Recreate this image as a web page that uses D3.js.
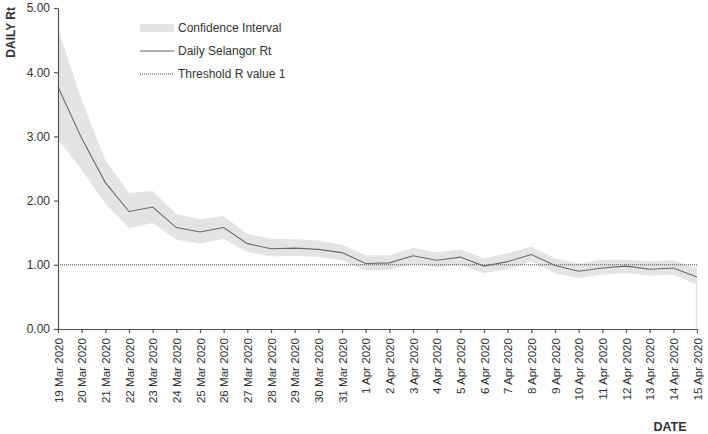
<!DOCTYPE html>
<html>
<head>
	<meta charset="utf-8">
	<title>Daily Selangor Rt</title>
	<script src="https://d3js.org/d3.v7.min.js"></script>
	<style>
		html, body {
			margin: 0;
			background: white;
		}
		text {
			font-family: "Liberation Sans", Arial, sans-serif;
			fill: #333;
		}
	</style>
</head>
<body>
	<svg id="svg"></svg>
	<script>
		const dates = ["19 Mar 2020", "20 Mar 2020", "21 Mar 2020", "22 Mar 2020", "23 Mar 2020", "24 Mar 2020",
			"25 Mar 2020", "26 Mar 2020", "27 Mar 2020", "28 Mar 2020", "29 Mar 2020", "30 Mar 2020", "31 Mar 2020",
			"1 Apr 2020", "2 Apr 2020", "3 Apr 2020", "4 Apr 2020", "5 Apr 2020", "6 Apr 2020", "7 Apr 2020",
			"8 Apr 2020", "9 Apr 2020", "10 Apr 2020", "11 Apr 2020", "12 Apr 2020", "13 Apr 2020", "14 Apr 2020",
			"15 Apr 2020"];
		const rt = [3.77, 2.97, 2.28, 1.83, 1.90, 1.58, 1.51, 1.58, 1.33, 1.25, 1.26, 1.24, 1.19,
			1.02, 1.03, 1.14, 1.07, 1.12, 0.98, 1.05, 1.16, 0.99, 0.90, 0.95, 0.98, 0.93, 0.95, 0.81];
		const ciUpper = [4.68, 3.57, 2.63, 2.12, 2.15, 1.79, 1.71, 1.76, 1.48, 1.40, 1.40, 1.38, 1.31,
			1.15, 1.15, 1.26, 1.19, 1.24, 1.10, 1.18, 1.28, 1.10, 1.02, 1.08, 1.08, 1.05, 1.07, 0.95];
		const ciLower = [2.95, 2.48, 1.95, 1.57, 1.65, 1.39, 1.33, 1.40, 1.20, 1.13, 1.14, 1.12, 1.07,
			0.91, 0.92, 1.02, 0.96, 1.00, 0.87, 0.93, 1.05, 0.87, 0.79, 0.85, 0.87, 0.83, 0.85, 0.69];
		const threshold = 1;
		const yTicks = [0, 1, 2, 3, 4, 5];
		const legendLabels = ["Confidence Interval", "Daily Selangor Rt", "Threshold R value 1"];

		const width = 708, height = 434;
		const margins = { top: 8, left: 58, right: 11, bottom: 105 };

		const svg = d3.select("#svg")
			.attr("width", width)
			.attr("height", height);

		const scaleX = d3.scalePoint()
			.domain(dates)
			.range([margins.left, width - margins.right]);

		const scaleY = d3.scaleLinear()
			.domain([0, 5])
			.range([height - margins.bottom, margins.top]);

		const data = dates.map((d, i) => ({ date: d, rt: rt[i], hi: ciUpper[i], lo: ciLower[i] }));

		// confidence band
		const area = d3.area()
			.x(d => scaleX(d.date))
			.y0(d => scaleY(d.lo))
			.y1(d => scaleY(d.hi));

		svg.append("path")
			.datum(data)
			.attr("fill", "#e4e4e4")
			.attr("d", area);

		// faint edge at the end of the band
		const last = data[data.length - 1];
		svg.append("line")
			.attr("x1", scaleX(last.date) - 0.5)
			.attr("x2", scaleX(last.date) - 0.5)
			.attr("y1", scaleY(last.lo))
			.attr("y2", scaleY(0))
			.attr("stroke", "#e4e4e4")
			.attr("stroke-width", 1.5);

		// threshold
		const thresholdLine = d3.line()
			.x(d => scaleX(d.date))
			.y(() => scaleY(threshold));

		svg.append("path")
			.datum(data)
			.attr("fill", "none")
			.attr("stroke", "#444")
			.attr("stroke-width", 1)
			.attr("stroke-dasharray", "1,1")
			.attr("d", thresholdLine);

		// Rt line
		const line = d3.line()
			.x(d => scaleX(d.date))
			.y(d => scaleY(d.rt));

		svg.append("path")
			.datum(data)
			.attr("fill", "none")
			.attr("stroke", "#6a6a6a")
			.attr("stroke-width", 1.1)
			.attr("d", line);

		// axes
		const yAxis = svg.append("g")
			.attr("transform", `translate(${margins.left}, 0)`)
			.call(d3.axisLeft(scaleY)
				.tickValues(yTicks)
				.tickFormat(d3.format(".2f"))
				.tickSize(4)
				.tickSizeOuter(0)
				.tickPadding(4));

		yAxis.selectAll("text")
			.style("font-size", "12px");

		const xAxis = svg.append("g")
			.attr("transform", `translate(0, ${height - margins.bottom})`)
			.call(d3.axisBottom(scaleX)
				.tickSize(4)
				.tickSizeOuter(0));

		xAxis.selectAll("text")
			.attr("transform", "rotate(-90)")
			.attr("x", -9)
			.attr("y", 0)
			.attr("dy", "0.35em")
			.attr("text-anchor", "end")
			.style("font-size", "11.6px");

		svg.selectAll(".domain, .tick line")
			.attr("stroke", "#555")
			.attr("stroke-width", 1.2);

		// axis titles
		svg.append("text")
			.attr("transform", `translate(15, 7) rotate(-90)`)
			.attr("text-anchor", "end")
			.style("font-size", "12px")
			.style("font-weight", "bold")
			.text("DAILY Rt");

		svg.append("text")
			.attr("x", 670)
			.attr("y", 431)
			.attr("text-anchor", "middle")
			.style("font-size", "12.5px")
			.style("font-weight", "bold")
			.text("DATE");

		// legend
		const legend = svg.append("g")
			.attr("transform", "translate(140, 28)");

		const item = legend.selectAll("g")
			.data(legendLabels)
			.enter()
			.append("g")
			.attr("transform", (d, i) => `translate(0, ${i * 23})`);

		item.filter((d, i) => i === 0)
			.append("rect")
			.attr("x", 0)
			.attr("y", -4)
			.attr("width", 34)
			.attr("height", 8)
			.attr("fill", "#e4e4e4");

		item.filter((d, i) => i === 1)
			.append("line")
			.attr("x1", 0).attr("x2", 34)
			.attr("stroke", "#6a6a6a")
			.attr("stroke-width", 1.1);

		item.filter((d, i) => i === 2)
			.append("line")
			.attr("x1", 0).attr("x2", 34)
			.attr("stroke", "#444")
			.attr("stroke-dasharray", "1,1");

		item.append("text")
			.attr("x", 38)
			.attr("dy", "0.35em")
			.style("font-size", "12px")
			.text(d => d);
	</script>
</body>
</html>
